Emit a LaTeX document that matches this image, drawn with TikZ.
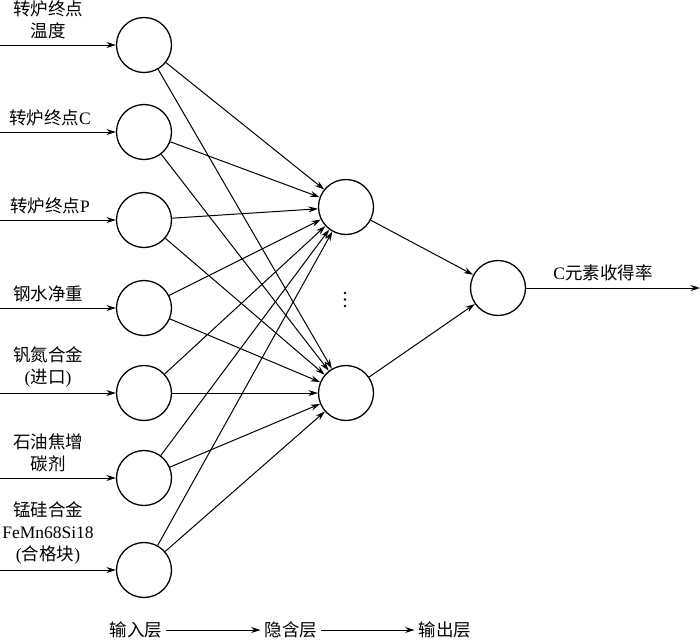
\documentclass[tikz,border=0pt]{standalone}
\usepackage{fontspec}
\setmainfont{Liberation Serif}
\newfontfamily\cjk{Noto Sans CJK SC}
\newcommand{\zh}[1]{{\cjk #1}}
\usetikzlibrary{arrows.meta}
\begin{document}
\begin{tikzpicture}[x=1pt,y=-1pt,
  neuron/.style={circle,draw,line width=1.3pt,minimum size=55pt,inner sep=0pt},
  conn/.style={line width=1pt,-{Stealth[length=9.5pt,width=6pt]}},
  lbl/.style={font=\fontsize{17.5}{22}\selectfont,align=center,inner sep=0pt},
  dot/.style={circle,fill,inner sep=0pt,minimum size=2.6pt},
  every node/.style={font=\fontsize{17.5}{22}\selectfont}]
\useasboundingbox (0,0) rectangle (700,641);
% input neurons
\node[neuron] (i1) at (144,45) {};
\node[neuron] (i2) at (144,132) {};
\node[neuron] (i3) at (144,220) {};
\node[neuron] (i4) at (144,308) {};
\node[neuron] (i5) at (144,393) {};
\node[neuron] (i6) at (144,478) {};
\node[neuron] (i7) at (144,570) {};
% hidden
\node[neuron] (h1) at (346,207) {};
\node[neuron] (h2) at (346,393) {};
\node[dot] (d1) at (345,293) {};
\node[dot] (d2) at (345,299.5) {};
\node[dot] (d3) at (345,306) {};
% output
\node[neuron] (o) at (498,288) {};
\coordinate (oend) at (700,288);
\draw[conn] (o) -- (oend);
\node[lbl,anchor=south] (olbl) at (603,281) {C\zh{元素收得率}};
% input arrows and labels
\foreach \n/\y in {1/45,2/132,3/220,4/308,5/393,6/478,7/570}{
  \coordinate (s\n) at (0,\y);
  \draw[conn] (s\n) -- (i\n);
}
\node[lbl,anchor=south] (l1) at (48,39) {\zh{转炉终点}\\\zh{温度}};
\node[lbl,anchor=south] (l2) at (50,126) {\zh{转炉终点}C};
\node[lbl,anchor=south] (l3) at (50,214) {\zh{转炉终点}P};
\node[lbl,anchor=south] (l4) at (48,302) {\zh{钢水净重}};
\node[lbl,anchor=south] (l5) at (48,387) {\zh{钒氮合金}\\(\zh{进口})};
\node[lbl,anchor=south] (l6) at (48,472) {\zh{石油焦增}\\\zh{碳剂}};
\node[lbl,anchor=south] (l7) at (48,564) {\zh{锰硅合金}\\FeMn68Si18\\(\zh{合格块})};
% connections input -> hidden
\foreach \n in {1,...,7}{
  \draw[conn] (i\n) -- (h1);
  \draw[conn] (i\n) -- (h2);
}
\draw[conn] (h1) -- (o);
\draw[conn] (h2) -- (o);
% bottom legend
\node[lbl] (b1) at (136,630) {\zh{输入层}};
\node[lbl] (b2) at (291,630) {\zh{隐含层}};
\node[lbl] (b3) at (445,630) {\zh{输出层}};
\draw[conn] ([xshift=4pt]b1.east) -- ([xshift=-4pt]b2.west);
\draw[conn] ([xshift=4pt]b2.east) -- ([xshift=-4pt]b3.west);
\end{tikzpicture}
\end{document}
